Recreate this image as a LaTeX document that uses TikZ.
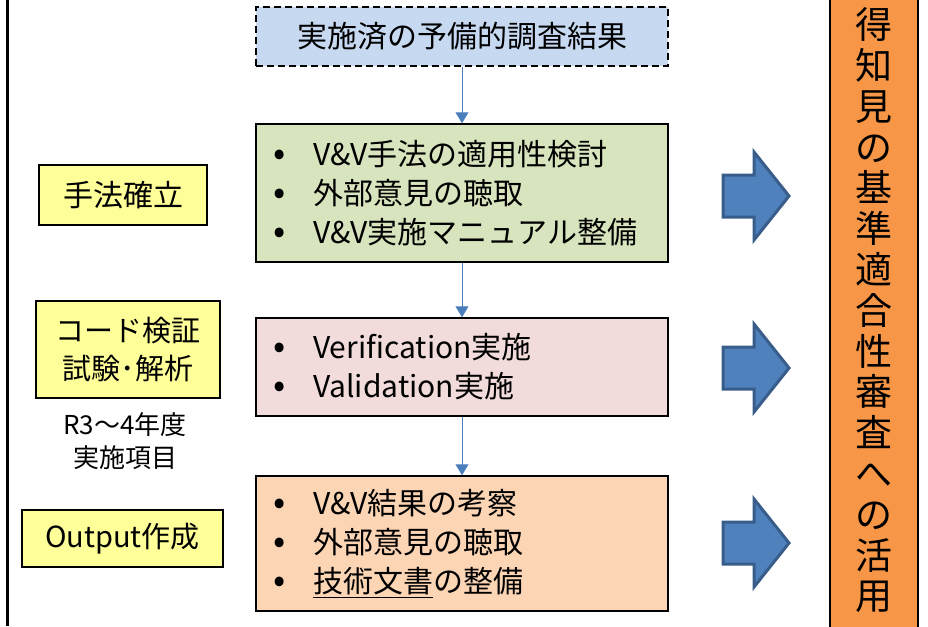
\documentclass[tikz,border=0pt]{standalone}
\usepackage{fontspec}
\setmainfont{Noto Sans CJK JP}
\usetikzlibrary{arrows.meta}
\definecolor{prelimfill}{HTML}{C6D9F1}
\definecolor{methodfill}{HTML}{D7E4BD}
\definecolor{veriffill}{HTML}{F2DCDB}
\definecolor{outfill}{HTML}{FCD5B5}
\definecolor{labelfill}{HTML}{FFFF99}
\definecolor{usefill}{HTML}{F79646}
\definecolor{flowblue}{HTML}{4A7EBB}
\definecolor{arrowfill}{HTML}{4F81BD}
\definecolor{arrowedge}{HTML}{385D8A}
\newcommand{\itm}{\makebox[12pt][c]{\fontsize{36}{39}\selectfont•}\hspace{27pt}}
\tikzset{
  stepbox/.style={draw, line width=1.5pt, minimum width=412pt, inner xsep=18pt,
    text width=376pt, align=left, font=\fontsize{30}{39}\selectfont},
  tag/.style={draw, line width=1.5pt, fill=labelfill, align=center,
    inner sep=0pt, font=\fontsize{29}{38}\selectfont},
  flow/.style={flowblue, line width=1pt, -{Triangle[length=11pt,width=13pt]}},
  bigarrow/.style={fill=arrowfill, draw=arrowedge, line width=3pt, line join=miter}
}
\begin{document}
\begin{tikzpicture}[x=1pt,y=-1pt]
\useasboundingbox (0,0) rectangle (928,626);
\draw[line width=3pt](7,0)--(7,626);
% flow in the middle
\node[draw, dash pattern=on 7pt off 4pt, line width=1.5pt, fill=prelimfill, minimum width=412pt,
  minimum height=59pt, font=\fontsize{30}{39}\selectfont] (prelim) at (462,36.5) {実施済の予備的調査結果};
\node[stepbox, fill=methodfill, minimum height=138pt] (method) at (462,193)
  {\itm V\&V手法の適用性検討\\ \itm 外部意見の聴取\\ \itm V\&V実施マニュアル整備};
\node[stepbox, fill=veriffill, minimum height=98pt] (verif) at (462,367)
  {\itm Verification実施\\ \itm Validation実施};
\node[stepbox, fill=outfill, minimum height=135pt] (output) at (462,543.5)
  {\itm V\&V結果の考察\\ \itm 外部意見の聴取\\ \itm \underline{技術文書}の整備};
\draw[flow] (prelim) -- (method);
\draw[flow] (method) -- (verif);
\draw[flow] (verif) -- (output);
% labels on the left
\node[tag, minimum width=168pt, minimum height=60pt, font=\fontsize{30}{38}\selectfont] (lblmethod) at (123,195) {手法確立};
\node[tag, minimum width=184pt, minimum height=97pt] (lblcode) at (128,349.5) {コード検証\\試験･解析};
\node[tag, minimum width=201pt, minimum height=57pt] (lbloutput) at (122.5,538.5) {Output作成};
\node[align=center, font=\fontsize{26}{33}\selectfont] (note) at (125,441) {R3～4年度\\実施項目};
% right side
\draw[line width=1.5pt, fill=usefill] (830,-20) rectangle (918,650);
\node[align=center, font=\fontsize{37}{40.8}\selectfont] (usage) at (874,291)
  {取\\得\\知\\見\\の\\基\\準\\適\\合\\性\\審\\査\\へ\\の\\活\\用};
\foreach \yc in {196,368,543}
  \draw[bigarrow] (723,\yc-21) -- (754,\yc-21) -- (754,\yc-44) -- (789,\yc)
    -- (754,\yc+44) -- (754,\yc+21) -- (723,\yc+21) -- cycle;
\end{tikzpicture}
\end{document}
